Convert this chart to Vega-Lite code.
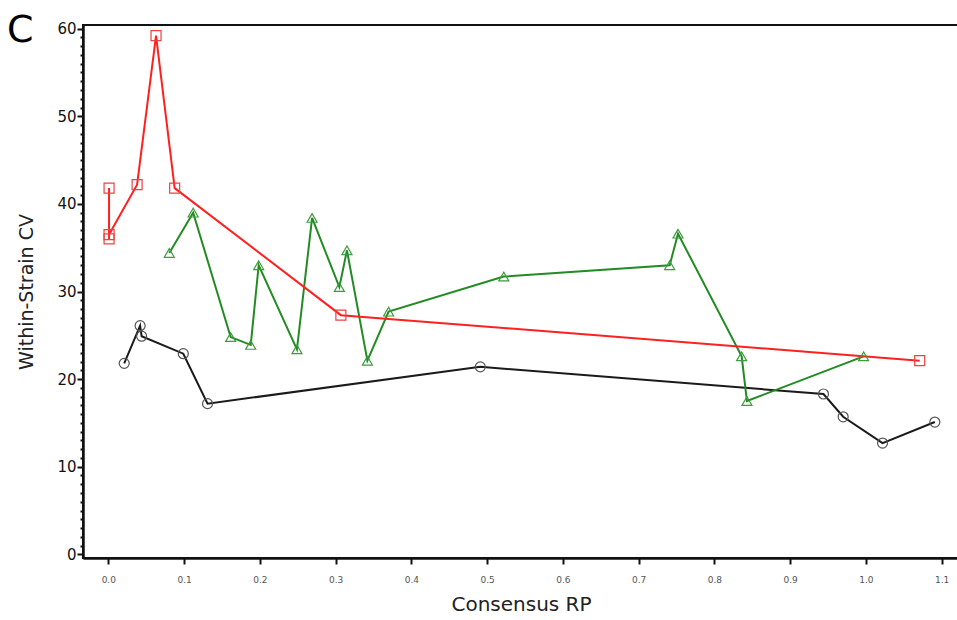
{
  "$schema": "https://vega.github.io/schema/vega-lite/v6.json",
  "autosize": {"type": "none"},
  "width": 876,
  "height": 533,
  "padding": {"left": 83, "top": 25, "right": 0, "bottom": 62},
  "background": "white",
  "title": {
    "text": "C",
    "anchor": "start",
    "frame": "group",
    "orient": "top",
    "fontSize": 38,
    "fontWeight": "normal",
    "font": "DejaVu Sans",
    "color": "black",
    "baseline": "alphabetic",
    "offset": 0,
    "dx": -76,
    "dy": 58
  },
  "config": {
    "view": {"stroke": "#111", "strokeWidth": 2},
    "font": "DejaVu Sans"
  },
  "data": {
    "values": [
      {"series": "S1", "seq": 1, "rp": 0.021, "cv": 21.8},
      {"series": "S1", "seq": 2, "rp": 0.042, "cv": 26.1},
      {"series": "S1", "seq": 3, "rp": 0.044, "cv": 24.9},
      {"series": "S1", "seq": 4, "rp": 0.099, "cv": 22.9},
      {"series": "S1", "seq": 5, "rp": 0.131, "cv": 17.2},
      {"series": "S1", "seq": 6, "rp": 0.491, "cv": 21.4},
      {"series": "S1", "seq": 7, "rp": 0.944, "cv": 18.3},
      {"series": "S1", "seq": 8, "rp": 0.970, "cv": 15.7},
      {"series": "S1", "seq": 9, "rp": 1.022, "cv": 12.7},
      {"series": "S1", "seq": 10, "rp": 1.091, "cv": 15.1},
      {"series": "S2", "seq": 1, "rp": 0.0805, "cv": 34.4},
      {"series": "S2", "seq": 2, "rp": 0.112, "cv": 39.0},
      {"series": "S2", "seq": 3, "rp": 0.1615, "cv": 24.8},
      {"series": "S2", "seq": 4, "rp": 0.188, "cv": 23.9},
      {"series": "S2", "seq": 5, "rp": 0.1985, "cv": 33.0},
      {"series": "S2", "seq": 6, "rp": 0.249, "cv": 23.4},
      {"series": "S2", "seq": 7, "rp": 0.269, "cv": 38.4},
      {"series": "S2", "seq": 8, "rp": 0.305, "cv": 30.5},
      {"series": "S2", "seq": 9, "rp": 0.315, "cv": 34.7},
      {"series": "S2", "seq": 10, "rp": 0.342, "cv": 22.1},
      {"series": "S2", "seq": 11, "rp": 0.370, "cv": 27.7},
      {"series": "S2", "seq": 12, "rp": 0.522, "cv": 31.7},
      {"series": "S2", "seq": 13, "rp": 0.741, "cv": 33.0},
      {"series": "S2", "seq": 14, "rp": 0.752, "cv": 36.6},
      {"series": "S2", "seq": 15, "rp": 0.836, "cv": 22.6},
      {"series": "S2", "seq": 16, "rp": 0.843, "cv": 17.5},
      {"series": "S2", "seq": 17, "rp": 0.997, "cv": 22.6},
      {"series": "S3", "seq": 1, "rp": 0.001, "cv": 41.8},
      {"series": "S3", "seq": 2, "rp": 0.001, "cv": 36.0},
      {"series": "S3", "seq": 3, "rp": 0.001, "cv": 36.5},
      {"series": "S3", "seq": 4, "rp": 0.038, "cv": 42.2},
      {"series": "S3", "seq": 5, "rp": 0.063, "cv": 59.2},
      {"series": "S3", "seq": 6, "rp": 0.0876, "cv": 41.8},
      {"series": "S3", "seq": 7, "rp": 0.307, "cv": 27.3},
      {"series": "S3", "seq": 8, "rp": 1.071, "cv": 22.1}
    ]
  },
  "encoding": {
    "x": {
      "field": "rp",
      "type": "quantitative",
      "scale": {"domain": [-0.0334, 1.1229], "nice": false, "zero": false},
      "axis": {
        "title": "Consensus RP",
        "values": [0, 0.1, 0.2, 0.3, 0.4, 0.5, 0.6, 0.7, 0.8, 0.9, 1.0, 1.1],
        "format": ".1f",
        "grid": false,
        "domainColor": "#111",
        "domainWidth": 2.5,
        "tickColor": "#111",
        "tickWidth": 2,
        "tickSize": 6,
        "labelFontSize": 9,
        "labelColor": "#555",
        "labelPadding": 11,
        "labelFont": "DejaVu Sans",
        "titleFontSize": 20,
        "titleFontWeight": "normal",
        "titleColor": "#222",
        "titlePadding": 10,
        "titleFont": "DejaVu Sans"
      }
    },
    "y": {
      "field": "cv",
      "type": "quantitative",
      "scale": {"domain": [-0.42, 60.42], "nice": false, "zero": false},
      "axis": {
        "title": "Within-Strain CV",
        "values": [0,1,2,3,4,5,6,7,8,9,10,11,12,13,14,15,16,17,18,19,20,21,22,23,24,25,26,27,28,29,30,31,32,33,34,35,36,37,38,39,40,41,42,43,44,45,46,47,48,49,50,51,52,53,54,55,56,57,58,59,60],
        "labelExpr": "datum.value % 10 === 0 ? datum.label : ''",
        "labelOverlap": false,
        "grid": false,
        "domainColor": "#111",
        "domainWidth": 2.5,
        "tickColor": "#111",
        "tickWidth": 2,
        "tickSize": {"condition": {"test": "datum.value % 10 === 0", "value": 6}, "value": 3},
        "labelFontSize": 15,
        "labelColor": "#111",
        "labelPadding": 1,
        "labelFont": "DejaVu Sans",
        "titleFontSize": 19,
        "titleFontWeight": "normal",
        "titleColor": "#222",
        "titlePadding": 20,
        "titleFont": "DejaVu Sans"
      }
    }
  },
  "layer": [
    {
      "mark": {"type": "line", "strokeWidth": 2},
      "encoding": {
        "color": {
          "field": "series",
          "type": "nominal",
          "scale": {"domain": ["S1", "S2", "S3"], "range": ["#1a1a1a", "#238b23", "#ff2020"]},
          "legend": null
        },
        "order": {"field": "seq", "type": "quantitative"}
      }
    },
    {
      "mark": {"type": "point", "filled": false, "strokeWidth": 1.2, "opacity": 1},
      "encoding": {
        "color": {
          "field": "series",
          "type": "nominal",
          "scale": {"domain": ["S1", "S2", "S3"], "range": ["#555555", "#3c9c3c", "#f04040"]},
          "legend": null
        },
        "shape": {
          "field": "series",
          "type": "nominal",
          "scale": {"domain": ["S1", "S2", "S3"], "range": ["circle", "triangle-up", "square"]},
          "legend": null
        },
        "size": {"value": 100}
      }
    }
  ],
  "resolve": {"scale": {"color": "independent"}}
}
